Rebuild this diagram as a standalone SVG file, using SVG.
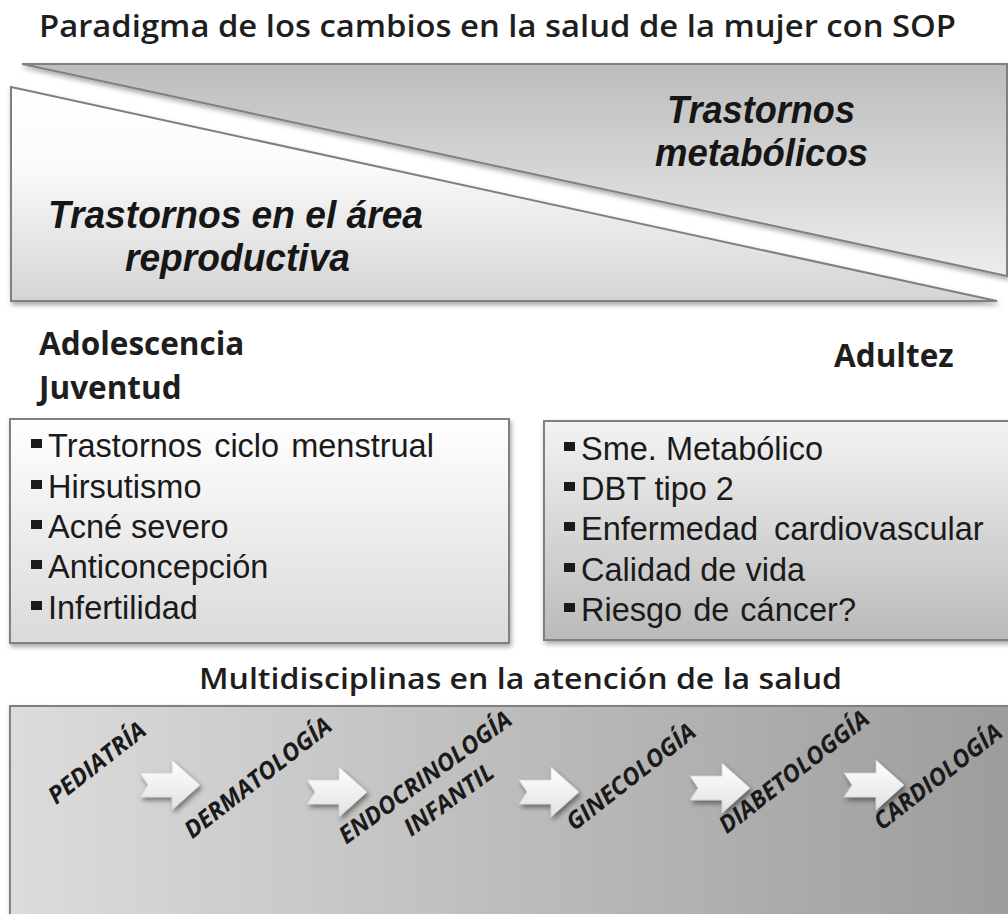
<svg xmlns="http://www.w3.org/2000/svg" width="1008" height="914" viewBox="0 0 1008 914">
<style>
.title{font-family:"Open Sans","Lato","Liberation Sans",sans-serif;font-weight:600;fill:#1e1e1e}
.big{font-family:"Liberation Sans",Arial,sans-serif;font-weight:bold;font-style:italic;font-size:38px;fill:#161616}
.hdr{font-family:"Open Sans","Liberation Sans",sans-serif;font-weight:bold;font-size:31.5px;fill:#1e1e1e}
.item{font-family:"Liberation Sans",Arial,sans-serif;font-size:32.5px;fill:#1a1a1a}
.lbl{font-family:"Open Sans","Liberation Sans",sans-serif;font-weight:bold;font-style:italic;font-size:24px;fill:#1a1a1a;text-anchor:middle}
.edge{stroke:#808080;stroke-width:2}
</style>
<defs>
<linearGradient id="gTop" x1="0" y1="64" x2="0" y2="276" gradientUnits="userSpaceOnUse">
<stop offset="0" stop-color="#bdbdbd"/><stop offset="1" stop-color="#ededed"/>
</linearGradient>
<linearGradient id="gLow" x1="0" y1="87" x2="0" y2="301" gradientUnits="userSpaceOnUse">
<stop offset="0" stop-color="#ffffff"/><stop offset="0.35" stop-color="#fbfbfb"/><stop offset="1" stop-color="#d4d4d4"/>
</linearGradient>
<linearGradient id="gLeft" x1="0" y1="0" x2="0" y2="1">
<stop offset="0" stop-color="#ffffff"/><stop offset="1" stop-color="#dadada"/>
</linearGradient>
<linearGradient id="gRight" x1="0" y1="0" x2="0" y2="1">
<stop offset="0" stop-color="#f3f3f3"/><stop offset="1" stop-color="#bababa"/>
</linearGradient>
<linearGradient id="gBottom" x1="0" y1="0" x2="1" y2="0">
<stop offset="0" stop-color="#dcdcdc"/><stop offset="1" stop-color="#9c9c9c"/>
</linearGradient>
<linearGradient id="gArrow" x1="0" y1="0" x2="0" y2="1">
<stop offset="0" stop-color="#ffffff"/><stop offset="1" stop-color="#e2e2e2"/>
</linearGradient>
<filter id="sh" x="-10%" y="-10%" width="130%" height="140%">
<feDropShadow dx="1.5" dy="3" stdDeviation="2.5" flood-color="#000" flood-opacity="0.35"/>
</filter>
<filter id="ash" x="-30%" y="-30%" width="170%" height="170%">
<feDropShadow dx="2" dy="3" stdDeviation="2.5" flood-color="#000" flood-opacity="0.45"/>
</filter>
<path id="arrow" d="M-30,-12 L2,-12 L2,-25 L30,0 L2,25 L2,12 L-30,12 L-22,0 Z"/>
<rect id="bul" width="11" height="9"/>
</defs>

<rect width="1008" height="914" fill="#ffffff"/>

<g id="title">
<text class="title" x="39" y="37" font-size="31" textLength="917" lengthAdjust="spacingAndGlyphs">Paradigma de los cambios en la salud de la mujer con SOP</text>
</g>

<g id="metabolic">
<polygon class="edge" points="22,64 1007,64 1007,276" fill="url(#gTop)" filter="url(#sh)"/>
<text class="big" x="667" y="123" textLength="188" lengthAdjust="spacingAndGlyphs">Trastornos</text>
<text class="big" x="655" y="166" textLength="213" lengthAdjust="spacingAndGlyphs">metabólicos</text>
</g>

<g id="reproductive">
<polygon class="edge" points="11,87 11,301 997,301" fill="url(#gLow)" filter="url(#sh)"/>
<text class="big" x="48" y="228" textLength="375" lengthAdjust="spacingAndGlyphs">Trastornos en el área</text>
<text class="big" x="125" y="271" textLength="225" lengthAdjust="spacingAndGlyphs">reproductiva</text>
</g>

<g id="stage-young">
<text class="hdr" x="39" y="355">Adolescencia</text>
<text class="hdr" x="39" y="399">Juventud</text>
</g>

<g id="stage-adult">
<text class="hdr" x="834" y="367">Adultez</text>
</g>

<g id="box-young">
<rect class="edge" x="10" y="419" width="499" height="224" fill="url(#gLeft)" filter="url(#sh)"/>
<g fill="#1a1a1a">
<use href="#bul" x="31" y="439"/>
<use href="#bul" x="31" y="480"/>
<use href="#bul" x="31" y="520"/>
<use href="#bul" x="31" y="560"/>
<use href="#bul" x="31" y="601"/>
</g>
<text class="item" x="48" y="457" word-spacing="3">Trastornos ciclo menstrual</text>
<text class="item" x="48" y="498">Hirsutismo</text>
<text class="item" x="48" y="538">Acné severo</text>
<text class="item" x="48" y="578">Anticoncepción</text>
<text class="item" x="48" y="619">Infertilidad</text>
</g>

<g id="box-adult">
<rect class="edge" x="544" y="421" width="470" height="219" fill="url(#gRight)" filter="url(#sh)"/>
<g fill="#1a1a1a">
<use href="#bul" x="564" y="442"/>
<use href="#bul" x="564" y="482"/>
<use href="#bul" x="564" y="522"/>
<use href="#bul" x="564" y="563"/>
<use href="#bul" x="564" y="603"/>
</g>
<text class="item" x="581" y="460">Sme. Metabólico</text>
<text class="item" x="581" y="500">DBT tipo 2</text>
<text class="item" x="581" y="540" word-spacing="7">Enfermedad cardiovascular</text>
<text class="item" x="581" y="581">Calidad de vida</text>
<text class="item" x="581" y="621" word-spacing="2">Riesgo de cáncer?</text>
</g>

<g id="multi-title">
<text class="title" x="199" y="689" font-size="29" textLength="643" lengthAdjust="spacingAndGlyphs">Multidisciplinas en la atención de la salud</text>
</g>

<g id="disciplines">
<rect class="edge" x="10" y="706" width="1010" height="220" fill="url(#gBottom)" filter="url(#sh)"/>
<g id="pediatria" transform="translate(97,763) rotate(-38)"><text class="lbl" x="0" y="8">PEDIATRÍA</text></g>
<g id="dermatologia" transform="translate(258,778) rotate(-38)"><text class="lbl" x="0" y="8">DERMATOLOGÍA</text></g>
<g id="endocrinologia" transform="translate(430,784) rotate(-36)"><text class="lbl" x="0" y="0">ENDOCRINOLOGÍA</text><text class="lbl" x="6" y="32">INFANTIL</text></g>
<g id="ginecologia" transform="translate(631,777) rotate(-38)"><text class="lbl" x="0" y="8">GINECOLOGÍA</text></g>
<g id="diabetologia" transform="translate(794,772) rotate(-38)"><text class="lbl" x="0" y="8">DIABETOLOGGÍA</text></g>
<g id="cardiologia" transform="translate(938,777) rotate(-38)"><text class="lbl" x="0" y="8">CARDIOLOGÍA</text></g>
</g>

<g id="connectors" fill="url(#gArrow)" stroke="#d0d0d0" stroke-width="0.8" filter="url(#ash)">
<use href="#arrow" x="170" y="785"/>
<use href="#arrow" x="337" y="792"/>
<use href="#arrow" x="549" y="792"/>
<use href="#arrow" x="720" y="788"/>
<use href="#arrow" x="874" y="785"/>
</g>
</svg>
